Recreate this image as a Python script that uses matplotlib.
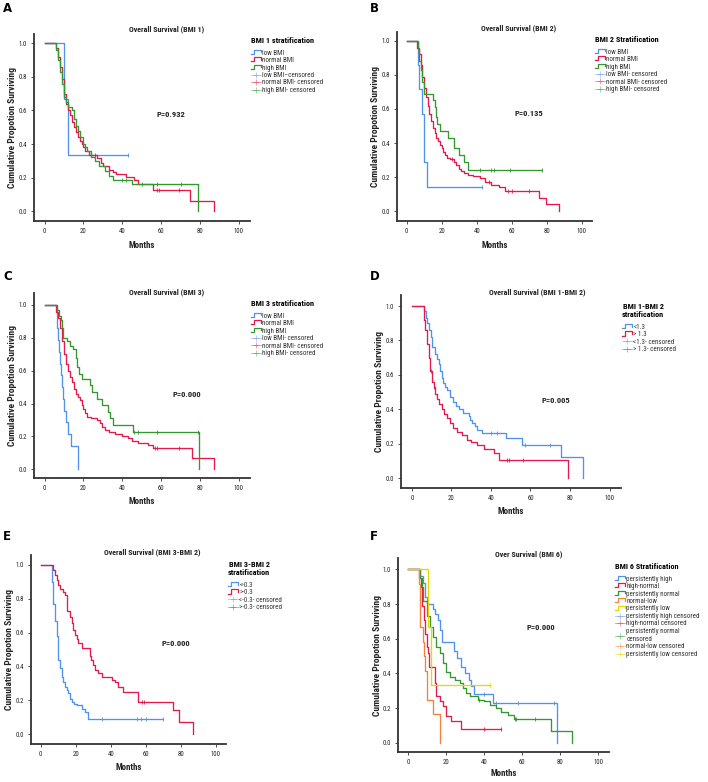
import numpy as np
import matplotlib
matplotlib.use('Agg')
import matplotlib.pyplot as plt
from matplotlib.lines import Line2D
from matplotlib.legend_handler import HandlerBase

plt.rcParams['font.family'] = ['Roboto Condensed', 'DejaVu Sans']

# ---- data: (months, cumulative survival) step points ----
A_LOW = [(0, 1.0), (10, 0.667), (12, 0.333), (43, 0.333)]
A_NORMAL = [(0, 1.0), (6, .97), (7, .92), (8, .86), (9, .79), (10, .70), (11, .64), (12, .60),
            (13, .57), (14, .53), (15, .50), (16, .47), (17, .44), (18, .42), (19, .40), (20, .38),
            (21, .36), (23, .335), (27, .315), (29, .29), (30, .27), (33, .245), (35, .235),
            (37, .22), (42, .205), (46, .185), (48, .165), (56, .125), (75, .063), (87, 0.0)]
A_HIGH = [(0, 1.0), (6, .96), (7, .90), (8, .83), (9, .76), (10, .68), (11, .65), (12, .62),
          (14, .60), (15, .55), (16, .51), (17, .48), (18, .44), (20, .40), (21, .38), (22, .36),
          (24, .325), (26, .30), (28, .27), (31, .24), (33, .21), (35, .187), (45, .16), (79, 0.0)]
A_LOW_CENS = [43]
A_NORMAL_CENS = [26, 58, 59, 69]
A_HIGH_CENS = [40, 42, 50, 58, 70]

B_LOW = [(0, 1.0), (6.7, .857), (7.2, .714), (9.0, .571), (9.9, .286), (11.8, .143), (43, .143)]
B_NORMAL = [(0, 1.0), (6, .96), (7, .92), (8, .86), (9, .79), (10, .72), (11, .67), (12, .62),
            (13, .57), (14, .53), (15, .49), (16, .46), (17, .43), (18, .41), (19, .39), (20, .37),
            (21, .35), (22, .33), (23, .315), (25, .305), (27, .29), (28, .27), (30, .25),
            (31, .235), (33, .225), (35, .21), (38, .205), (42, .195), (45, .17), (48, .155),
            (53, .14), (56, .12), (75.5, .08), (79.5, .04), (87, 0.0)]
B_HIGH = [(0, 1.0), (6.3, .95), (7, .88), (8, .83), (9, .76), (10, .69), (15, .65), (16, .61),
          (17, .55), (17.5, .51), (19, .47), (23.5, .43), (27, .37), (29.7, .33), (33, .29),
          (35, .24), (77, .24)]
B_LOW_CENS = [43]
B_NORMAL_CENS = [26, 47, 58, 60, 70]
B_HIGH_CENS = [42, 48, 50, 59, 77]

C_LOW = [(0, 1.0), (6.2, .929), (6.6, .857), (7.0, .786), (7.5, .714), (8.0, .643), (8.6, .571),
         (9.0, .5), (9.4, .429), (9.8, .357), (10.8, .286), (12.2, .214), (13.6, .143), (17.0, 0.0)]
C_NORMAL = [(0, 1.0), (6, .96), (7, .92), (8, .86), (9, .78), (10, .70), (11, .64), (12, .60),
            (13, .56), (14, .53), (15, .49), (16, .46), (17, .44), (18, .42), (19, .39), (20, .37),
            (21, .34), (22, .32), (24, .31), (27, .30), (28.5, .28), (29.5, .26), (31, .24),
            (33, .225), (36, .215), (40, .20), (43, .19), (45, .175), (48, .162), (53, .148),
            (56, .128), (75.8, .067), (87, 0.0)]
C_HIGH = [(0, 1.0), (6.2, .97), (7.6, .93), (8.4, .91), (9.0, .86), (9.6, .80), (11.3, .78),
          (13, .75), (14.4, .73), (16.2, .68), (16.8, .62), (17.7, .58), (19, .55), (23.4, .51),
          (24.2, .47), (27.1, .43), (29.4, .39), (32.8, .35), (33.7, .31), (35.4, .27),
          (45.4, .23), (79.7, 0.0)]
C_LOW_CENS = []
C_NORMAL_CENS = [57, 58, 69]
C_HIGH_CENS = [46, 48, 58, 79]

D_BELOW = [(0, 1.0), (6, .97), (7, .93), (7.6, .90), (8.5, .86), (9.5, .82), (10.2, .76),
           (11.5, .72), (12.7, .69), (13.5, .66), (14.4, .62), (15.2, .58), (16, .55), (17, .53),
           (17.8, .51), (19.5, .47), (21, .44), (22.5, .42), (23.7, .40), (26, .38), (28.8, .36),
           (29.5, .34), (30.5, .32), (32, .30), (33, .28), (35.5, .26), (47.4, .235),
           (55.8, .19), (75.3, .12), (86.8, 0.0)]
D_ABOVE = [(0, 1.0), (6, .92), (6.8, .86), (7.5, .78), (8.5, .70), (9.3, .62), (10.2, .56),
           (11, .53), (11.8, .49), (12.7, .46), (13.5, .43), (15.2, .40), (16.5, .37),
           (17.8, .35), (19.5, .32), (21, .29), (22.8, .27), (25.4, .25), (28, .22), (30, .21),
           (33, .19), (36.4, .17), (41.5, .145), (44, .106), (79.2, 0.0)]
D_BELOW_CENS = [40, 43, 57, 70]
D_ABOVE_CENS = [9.5, 11, 48, 49, 56]

E_BELOW = [(0, 1.0), (6.3, .90), (7.2, .77), (8, .67), (9.1, .58), (10, .44), (11, .39),
           (12, .34), (13, .31), (13.9, .28), (15, .26), (15.8, .24), (16.8, .21), (17.7, .19),
           (19, .18), (20.5, .17), (23.4, .15), (25.3, .13), (27.2, .089), (70, .089)]
E_ABOVE = [(0, 1.0), (7.2, .97), (8.2, .94), (9.1, .91), (10, .88), (11, .86), (12.9, .84),
           (13.9, .82), (14.8, .73), (16.7, .69), (17.7, .655), (18.6, .615), (19.6, .585),
           (20.5, .56), (21.5, .54), (23.4, .51), (28.1, .46), (29, .44), (30, .41), (31, .38),
           (33, .36), (34.8, .335), (40.5, .32), (42.4, .31), (44.3, .28), (47, .25),
           (55.7, .19), (75.7, .142), (79, .07), (86.7, 0.0)]
E_BELOW_CENS = [35, 55, 57, 60, 70]
E_ABOVE_CENS = [58, 59]

F_HIGH = [(0, 1.0), (6, .96), (7.9, .92), (8.7, .84), (9.6, .80), (13.1, .77), (14, .74),
          (15.7, .71), (16.6, .65), (17.5, .61), (17.8, .58), (23.9, .53), (25.8, .49),
          (27.6, .44), (29.7, .40), (31.8, .36), (32.8, .33), (34.4, .28), (44.5, .23),
          (78.5, 0.0)]
F_HIGH_NORMAL = [(0, 1.0), (5.8, .95), (6.6, .90), (7.3, .79), (8.2, .71), (8.7, .63),
                 (9.6, .555), (10.1, .52), (10.8, .44), (13.8, .345), (14.8, .27), (16.6, .24),
                 (18.3, .21), (20, .155), (22.7, .125), (27.9, .08), (48.9, .08)]
F_NORMAL = [(0, 1.0), (6, .95), (7, .90), (7.9, .82), (9.6, .73), (11.3, .67), (13.1, .61),
            (14.8, .555), (16.6, .52), (18.3, .46), (20, .41), (21.8, .38), (24.4, .36),
            (27, .345), (28.8, .316), (30.5, .287), (32.3, .268), (36.6, .25), (40, .24),
            (42.8, .22), (46.2, .20), (48.9, .18), (52.4, .163), (55.8, .138), (75, .067),
            (86.4, 0.0)]
F_NORMAL_LOW = [(0, 1.0), (5.8, .917), (6.0, .833), (6.2, .667), (7.5, .583), (8.0, .5),
                (8.9, .417), (9.8, .25), (12.7, .167), (16.4, 0.0)]
F_LOW = [(0, 1.0), (10.1, .667), (11.9, .333), (42.8, .333)]
F_HIGH_CENS = [40, 46, 58, 77]
F_HIGH_NORMAL_CENS = [40, 48.9]
F_NORMAL_CENS = [37, 56, 57, 67]
F_NORMAL_LOW_CENS = []
F_LOW_CENS = [42.8]

P_VALUES = ['P=0.932', 'P=0.135', 'P=0.000', 'P=0.005', 'P=0.000', 'P=0.000']

BLUE, RED, GREEN = '#4f93ee', '#e6194b', '#33992f'
ORANGE, YELLOW = '#f7803a', '#e8d600'
INK = '#222222'

W, H = 708, 782
fig = plt.figure(figsize=(W / 100, H / 100), dpi=100)


class StepLine(Line2D):
    pass


class StepHandler(HandlerBase):
    # SPSS-like little step icon
    def create_artists(self, legend, orig_handle, xdescent, ydescent, width, height,
                       fontsize, trans):
        x0, y0 = -xdescent, -ydescent
        xs = [x0, x0 + 0.25 * width, x0 + 0.25 * width, x0 + width, x0 + width]
        ys = [y0 + 0.15 * height, y0 + 0.15 * height, y0 + 1.0 * height,
              y0 + 1.0 * height, y0 + 0.45 * height]
        return [Line2D(xs, ys, color=orig_handle.get_color(), lw=0.9, transform=trans)]


def step_curve(ax, pts, cens, color):
    t = np.array([p[0] for p in pts])
    s = np.array([p[1] for p in pts])
    ax.step(t, s, where='post', color=color, lw=0.95)
    if cens:
        idx = np.searchsorted(t, cens, side='right') - 1
        ax.plot(cens, s[idx], ls='none', marker='|', ms=3, mew=0.6, color=color)


panels = [
    dict(letter='A', rect=(34, 34, 250, 221), ylim=(-0.058, 1.055), p=(65, 0.573),
         title='Overall Survival (BMI 1)', tpos=(167, 29), lpos=(251, 37), xl=25,
         ltitle='BMI 1 stratification',
         curves=[(A_LOW, A_LOW_CENS, BLUE), (A_NORMAL, A_NORMAL_CENS, RED),
                 (A_HIGH, A_HIGH_CENS, GREEN)],
         labels=['low BMI', 'normal BMI', 'high BMI', 'low BMI\u2013censored',
                 'normal BMI- censored', 'high BMI- censored']),
    dict(letter='B', rect=(397, 32, 592, 221), ylim=(-0.057, 1.051), p=(70, 0.574),
         title='Overall Survival (BMI 2)', tpos=(519, 28), lpos=(595, 36), xl=25,
         ltitle='BMI 2 Stratification',
         curves=[(B_LOW, B_LOW_CENS, BLUE), (B_NORMAL, B_NORMAL_CENS, RED),
                 (B_HIGH, B_HIGH_CENS, GREEN)],
         labels=['low BMI', 'normal BMI', 'high BMI', 'low BMI- censored',
                 'normal BMI- censored', 'high BMI- censored']),
    dict(letter='C', rect=(34, 293, 250, 478), ylim=(-0.053, 1.073), p=(73, 0.456),
         title='Overall Survival (BMI 3)', tpos=(167, 292), lpos=(251, 300), xl=24,
         ltitle='BMI 3 stratification',
         curves=[(C_LOW, C_LOW_CENS, BLUE), (C_NORMAL, C_NORMAL_CENS, RED),
                 (C_HIGH, C_HIGH_CENS, GREEN)],
         labels=['low BMI', 'normal BMI', 'high BMI', 'low BMI- censored',
                 'normal BMI- censored', 'high BMI- censored']),
    dict(letter='D', rect=(401, 295, 621, 488), ylim=(-0.058, 1.064), p=(73, 0.449),
         title='Overall Survival (BMI 1-BMI 2)', tpos=(537, 292), lpos=(622, 303), xl=24,
         ltitle='BMI 1-BMI 2\nstratification',
         curves=[(D_BELOW, D_BELOW_CENS, BLUE), (D_ABOVE, D_ABOVE_CENS, RED)],
         labels=['<1.3', '> 1.3', '<1.3- censored', '> 1.3- censored']),
    dict(letter='E', rect=(31, 555, 226, 744), ylim=(-0.059, 1.059), p=(77, 0.533),
         title='Overall Survival (BMI 3-BMI 2)', tpos=(152, 552), lpos=(228, 561), xl=24,
         ltitle='BMI 3-BMI 2\nstratification',
         curves=[(E_BELOW, E_BELOW_CENS, BLUE), (E_ABOVE, E_ABOVE_CENS, RED)],
         labels=['<-0.3', '>-0.3', '<-0.3- censored', '>-0.3- censored']),
    dict(letter='F', rect=(398, 558, 609, 752), ylim=(-0.052, 1.065), p=(70, 0.664),
         title='Over Survival (BMI 6)', tpos=(529, 554), lpos=(615, 563), xl=22,
         ltitle='BMI 6 Stratification',
         curves=[(F_HIGH, F_HIGH_CENS, BLUE), (F_HIGH_NORMAL, F_HIGH_NORMAL_CENS, RED),
                 (F_NORMAL, F_NORMAL_CENS, GREEN), (F_NORMAL_LOW, F_NORMAL_LOW_CENS, ORANGE),
                 (F_LOW, F_LOW_CENS, YELLOW)],
         labels=['persistently high', 'high-normal', 'persistently normal', 'normal-low',
                 'persistently low', 'persistently high censored', 'high-normal censored',
                 'persistently normal\ncensored', 'normal-low censored',
                 'persistently low censored']),
]
letter_pos = [(3, 11.7), (370, 11.7), (3, 279.5), (370, 280), (3, 540), (370, 540.5)]

for pan, lp, ptxt in zip(panels, letter_pos, P_VALUES):
    l, t, r, b = pan['rect']
    ax = fig.add_axes([l / W, 1 - b / H, (r - l) / W, (b - t) / H])
    for pts, cens, col in pan['curves']:
        step_curve(ax, pts, cens, col)
    ax.set_xlim(-5.5, 105.8)
    ax.set_ylim(*pan['ylim'])
    ax.set_xticks(np.arange(0, 101, 20))
    ax.set_yticks(np.arange(0, 1.01, 0.2))
    ax.yaxis.set_major_formatter(plt.FormatStrFormatter('%.1f'))
    for sp in ['top', 'right']:
        ax.spines[sp].set_visible(False)
    for sp in ['left', 'bottom']:
        ax.spines[sp].set_color('#333333')
        ax.spines[sp].set_linewidth(1.3)
    ax.tick_params(length=2, width=0.6, color='#333333', labelsize=4.9, pad=3,
                   labelcolor=INK)
    ax.set_xlabel('Months', fontsize=6.4, fontweight='bold', color=INK, va='center')
    ax.xaxis.set_label_coords(0.5, -pan['xl'] / (b - t))
    ax.set_ylabel('Cumulative Propotion Surviving', fontsize=6.8, fontweight='bold',
                  color=INK, va='center')
    ax.yaxis.set_label_coords(-21 / (r - l), 0.5)
    ax.text(pan['p'][0], pan['p'][1], ptxt, ha='center', va='center', fontsize=6.1,
            fontweight='bold', color=INK)

    fig.text(pan['tpos'][0] / W, 1 - pan['tpos'][1] / H, pan['title'], ha='center',
             va='center', fontsize=5.7, fontweight='bold', color=INK)
    fig.text(lp[0] / W, 1 - lp[1] / H, pan['letter'], ha='left', va='baseline',
             fontsize=8.5, fontweight='bold', family='DejaVu Sans')

    handles = []
    for pts, cens, col in pan['curves']:
        handles.append(StepLine([], [], color=col))
    for pts, cens, col in pan['curves']:
        handles.append(Line2D([], [], color=col, alpha=0.5, lw=0.6, marker='+', ms=4,
                              mew=0.6))
    leg = fig.legend(handles, pan['labels'], loc='upper left',
                     bbox_to_anchor=(pan['lpos'][0] / W, 1 - pan['lpos'][1] / H),
                     bbox_transform=fig.transFigure, frameon=False, fontsize=5.0,
                     title=pan['ltitle'], title_fontproperties={'size': 5.9, 'weight': 'bold'},
                     handler_map={StepLine: StepHandler()}, handlelength=1.5,
                     handletextpad=0.15, labelspacing=0.07, borderpad=0, borderaxespad=0,
                     numpoints=1)
    leg._legend_box.align = 'left'
    leg._legend_box.sep = 4.0
    leg.get_title().set_multialignment('center')
    for txt in leg.get_texts():
        txt.set_color('#333333')

fig.savefig('out.png', dpi=100)
